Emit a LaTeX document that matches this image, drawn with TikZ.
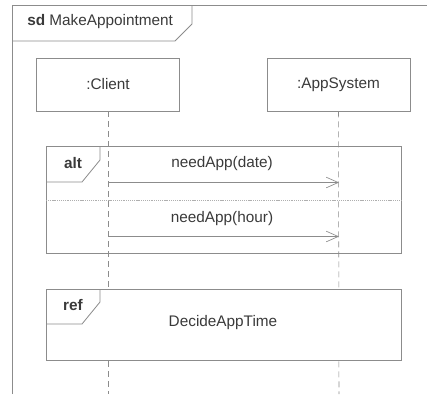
\documentclass[tikz,border=0pt]{standalone}
\usepackage{fontspec}
\setmainfont{Liberation Sans}
\usetikzlibrary{arrows.meta}
\usepackage{xcolor}
\definecolor{linegray}{HTML}{8C8C8C}
\definecolor{textgray}{HTML}{3A3A3A}

\begin{document}
\begin{tikzpicture}[x=0.75pt,y=-0.75pt,
  txt/.style={text=textgray,font=\fontsize{11.5}{14}\selectfont,inner sep=0pt},
  lifebox/.style={draw=linegray,fill=white,minimum width=143*0.75pt,minimum height=53*0.75pt,txt},
  lifeline/.style={draw=linegray,dash pattern=on 4.5pt off 3pt},
  frameline/.style={draw=linegray,line width=0.6pt},
  msg/.style={draw=linegray,line width=0.6pt,-{Straight Barb[length=9pt,width=8pt,line width=0.5pt]}}]
\useasboundingbox (0,0) rectangle (427,394);
% outer frame
\draw[frameline] (12,394)--(12,5)--(427,5);
\draw[frameline] (192,5)--(192,24)--(175,41)--(12,41);
\node[txt,anchor=west] (sd) at (27,22) {\textbf{sd} MakeAppointment};
% lifelines
\node[lifebox] (client) at (108,84.5) {:Client};
\node[lifebox] (appsys) at (338.5,84.5) {:AppSystem};
\coordinate (clientend) at (108,394);
\coordinate (appsysend) at (339,394);
\draw[lifeline] (client.south)--(clientend);
\draw[lifeline] (appsys.south)--(appsysend);
% alt fragment
\draw[frameline] (46,146) rectangle (401,253);
\draw[frameline] (100,146)--(100,160)--(82,182)--(46,182);
\draw[draw=linegray!70,line width=0.4pt,dash pattern=on 0.8pt off 0.6pt] (46,200)--(401,200);
\node[txt,font=\fontsize{11.5}{14}\selectfont\bfseries] (alt) at (73,163) {alt};
\coordinate (c1) at (108,182.5);
\coordinate (a1) at (339,182.5);
\coordinate (c2) at (108,236.5);
\coordinate (a2) at (339,236.5);
\draw[msg] (c1)--(a1);
\draw[msg] (c2)--(a2);
\node[txt] (m1) at (222,164) {needApp(date)};
\node[txt] (m2) at (222,219) {needApp(hour)};
% ref fragment
\draw[frameline,fill=white] (46,289) rectangle (401,360);
\draw[frameline] (100,289)--(100,302)--(82,324)--(46,324);
\node[txt,font=\fontsize{11.5}{14}\selectfont\bfseries] (ref) at (73,305) {ref};
\node[txt] (decide) at (223,323) {DecideAppTime};
\end{tikzpicture}
\end{document}
